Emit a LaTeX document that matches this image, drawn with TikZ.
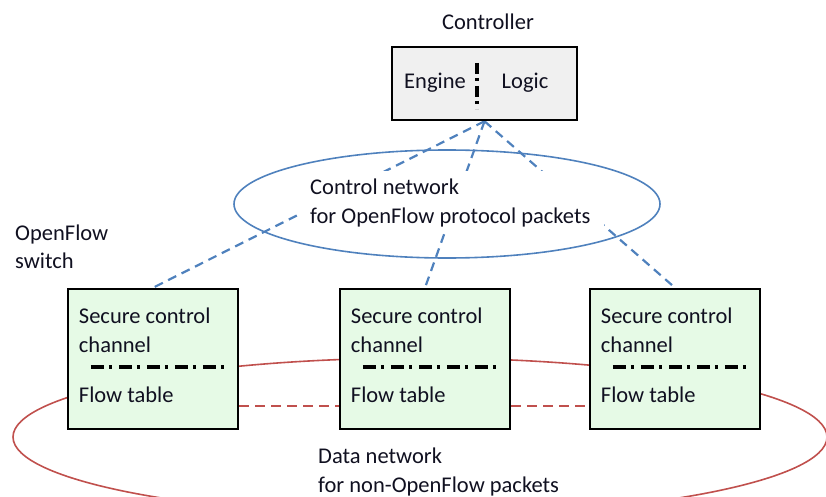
\documentclass[tikz,border=0pt]{standalone}
\usepackage{fontspec}
\setmainfont{Carlito}
\definecolor{ofblue}{HTML}{4F81BD}
\definecolor{ofred}{HTML}{C0504D}
\definecolor{boxgreen}{HTML}{E6FAE6}
\definecolor{ctrlgray}{HTML}{F0F0F0}
\definecolor{txt}{HTML}{101020}
\begin{document}
\begin{tikzpicture}[x=1pt,y=-1pt,
  lbl/.style={font=\fontsize{22.5}{28.5}\selectfont, text=txt, inner sep=0pt},
  switchbox/.style={draw=black, line width=2.5pt, fill=boxgreen, minimum width=170pt, minimum height=140pt, inner sep=0pt},
  ctrlbox/.style={draw=black, line width=2.5pt, fill=ctrlgray, minimum width=185pt, minimum height=73pt, inner sep=0pt},
  ctrllink/.style={draw=ofblue, line width=2.2pt, dash pattern=on 9pt off 6pt},
  sep/.style={draw=black, line width=3.5pt, dash pattern=on 13pt off 5pt on 3pt off 7pt},
]
\useasboundingbox (0,0) rectangle (826,497);
\clip (0,0) rectangle (826,497);

% data network
\draw[ofred, line width=1.6pt] (420,437) ellipse [x radius=407, y radius=79];

% nodes
\node[ctrlbox] (ctrl) at (484.5,83.5) {};
\node[switchbox] (s1) at (153,359) {};
\node[switchbox] (s2) at (425,359) {};
\node[switchbox] (s3) at (675,359) {};

\coordinate (d1) at ([yshift=-47pt]s1.east);
\coordinate (d3) at ([yshift=-47pt]s3.west);

% links first, then boxes on top
\draw[ofred, line width=2pt, dash pattern=on 10pt off 6pt] (d1) -- (d3);
\draw[ctrllink] (ctrl.south) -- (s1.north);
\draw[ctrllink] (ctrl.south) -- (s2.north);
\draw[ctrllink] (ctrl.south) -- (s3.north);

% control network ellipse
\draw[ofblue, line width=1.6pt] (447,204) ellipse [x radius=213, y radius=54];
\node[fill=white, minimum width=306pt, minimum height=59pt, inner sep=0pt] (cnbg) at (451,200.5) {};
\node[lbl, anchor=west, align=left] (cn) at (310,203) {Control network\\for OpenFlow protocol packets};

% boxes on top
\node[switchbox] at (s1) {};
\node[switchbox] at (s2) {};
\node[switchbox] at (s3) {};
\node[ctrlbox] at (ctrl) {};

% controller
\node[lbl] (ctitle) at (488,22) {Controller};
\node[lbl] (eng) at (435,83) {Engine};
\node[lbl] (logic) at (525,83) {Logic};
\coordinate (cdt) at (477,63);
\coordinate (cdb) at (477,109);
\draw[black, line width=3.2pt, dash pattern=on 11pt off 4pt on 3pt off 5pt] (cdt) -- (cdb);

% switch contents
\foreach \s in {s1,s2,s3} {
  \node[lbl, anchor=west] (\s-sc) at ([xshift=12pt,yshift=43pt]\s.west) {Secure control};
  \node[lbl, anchor=west] (\s-ch) at ([xshift=12pt,yshift=14pt]\s.west) {channel};
  \node[lbl, anchor=west] (\s-ft) at ([xshift=12pt,yshift=-36pt]\s.west) {Flow table};
  \draw[sep] ([xshift=24pt,yshift=-8pt]\s.west) -- ([xshift=157pt,yshift=-8pt]\s.west);
}

% labels
\node[lbl, anchor=west, align=left] (ofs) at (15,247) {OpenFlow\\switch};
\node[lbl, anchor=west, align=left] (dn) at (318,472) {Data network\\for non-OpenFlow packets};
\end{tikzpicture}
\end{document}
